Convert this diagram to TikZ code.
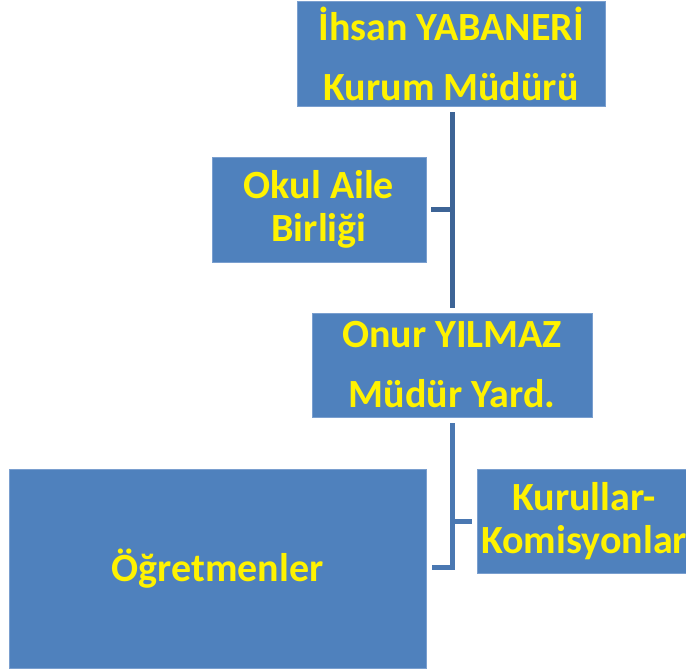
\documentclass[tikz,border=0pt]{standalone}
\usepackage{fontspec}
\setmainfont{Carlito}
\usepackage{tikz}

\definecolor{boxblue}{HTML}{4F81BD}
\definecolor{boxline}{HTML}{7A9FCF}
\definecolor{linkdark}{HTML}{3D6496}
\definecolor{linkblue}{HTML}{4A78B2}

\tikzset{
  box/.style={draw=boxline,line width=0.8pt,fill=boxblue,text=yellow,
    align=center,inner sep=0pt,font=\bfseries\fontsize{40}{43}\selectfont},
  wide/.style={font=\bfseries\fontsize{40}{60}\selectfont},
  link/.style={line width=5pt,color=linkdark},
}

\begin{document}
\begin{tikzpicture}[x=1pt,y=-1pt]
\clip (0,0) rectangle (686,671);
% The boxes
\node[box,wide,minimum width=308pt,minimum height=105pt] (mudur) at (451,53.5) {İhsan YABANERİ\\Kurum Müdürü};
\node[box,minimum width=214pt,minimum height=105pt] (aile) at (319,209.5) {Okul Aile\\Birliği};
\node[box,wide,minimum width=280pt,minimum height=104pt] (yard) at (452,365) {Onur YILMAZ\\Müdür Yard.};
\node[box,minimum width=214pt,minimum height=104pt] (kurul) at (584,521) {Kurullar-\\Komisyonlar};
\node[box,minimum width=417pt,minimum height=199pt] (ogretmen) at (217.5,568.5) {Öğretmenler};

% The connectors
\draw[link,shorten <=6pt,shorten >=5pt] (yard.north |- mudur.south) -- (yard.north);
\draw[link,shorten <=5pt] (aile.east) -- (aile.east -| yard.north);
\draw[link,color=linkblue,shorten <=6pt,shorten >=6pt] (yard.south) |- ([yshift=1.5pt]ogretmen.east);
\draw[link,color=linkblue,shorten >=5pt] (yard.south |- kurul.west) -- (kurul.west);
\end{tikzpicture}
\end{document}
